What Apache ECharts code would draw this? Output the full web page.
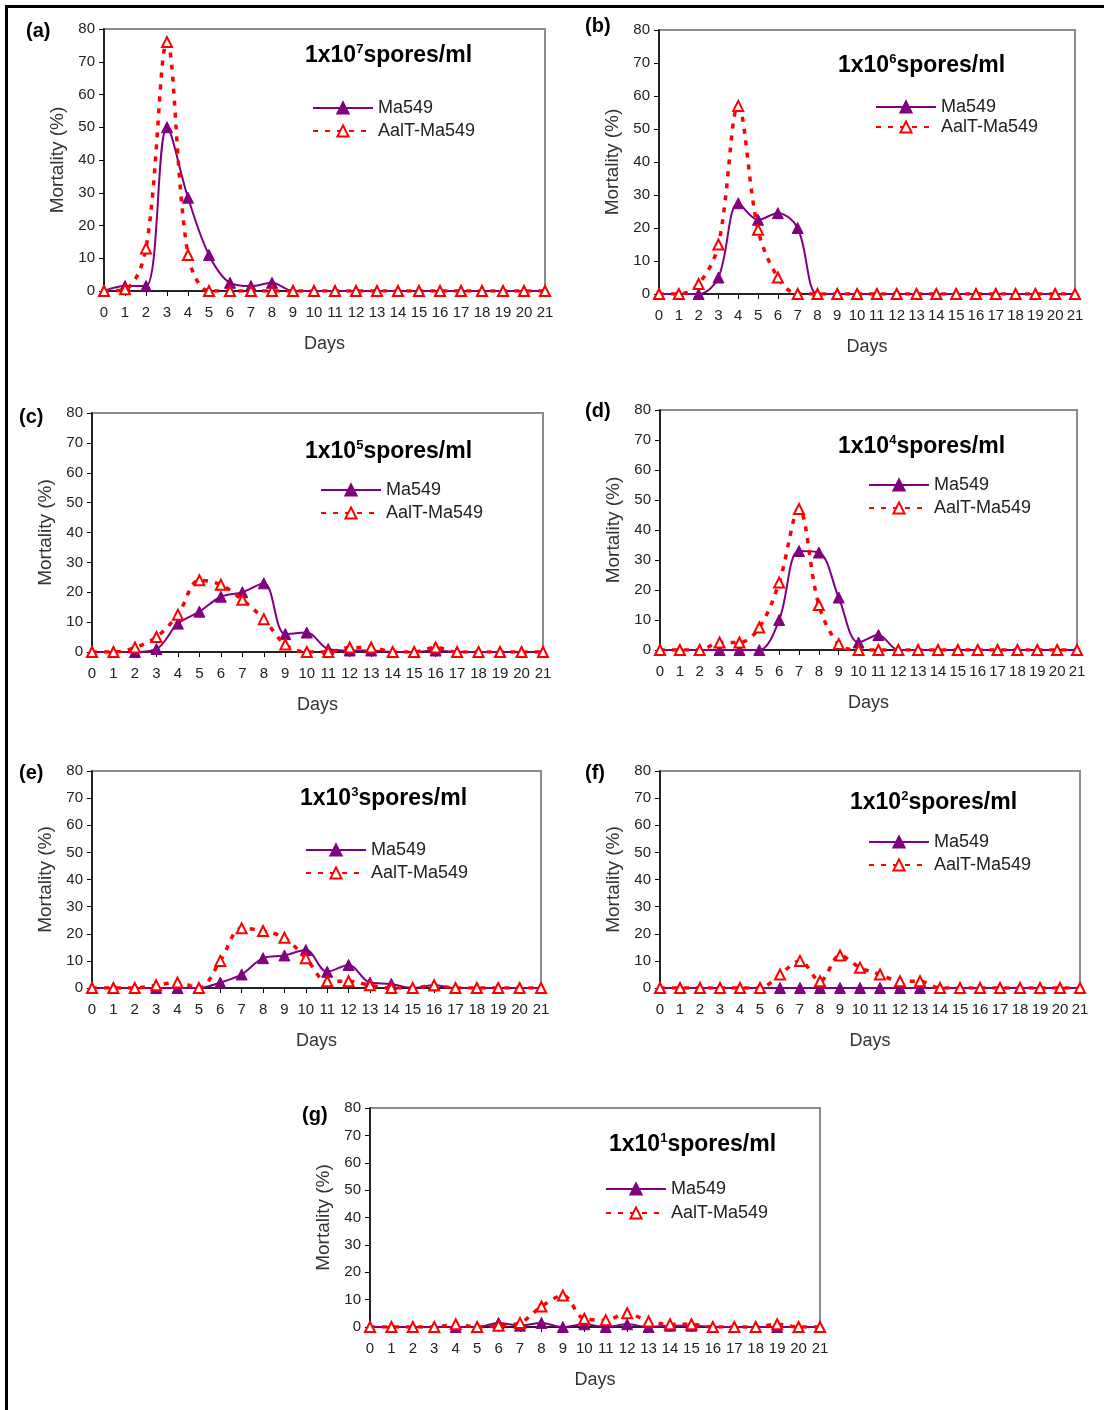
<!DOCTYPE html>
<html><head><meta charset="utf-8">
<script src="https://cdn.jsdelivr.net/npm/echarts@6/dist/echarts.min.js"></script>
<style>html,body{margin:0;padding:0;background:#fff}#c{width:1104px;height:1410px}</style>
</head><body><div id="c"></div>
<script>
// ---- data ----
const days = ['0','1','2','3','4','5','6','7','8','9','10','11','12','13','14','15','16','17','18','19','20','21'];
const seriesNames = ['Ma549', 'AalT-Ma549'];
const panelLetters = ['(a)','(b)','(c)','(d)','(e)','(f)','(g)'];
const exponents = ['7','6','5','4','3','2','1'];

const ma549_a = [0,1.5,1.5,50,28.5,11,2.5,1.5,2.5,0,0,0,0,0,0,0,0,0,0,0,0,0];
const aalt_a  = [0,0.5,13,76,11,0,0,0,0,0,0,0,0,0,0,0,0,0,0,0,0,0];
const ma549_b = [0,0,0,5,27.5,22.5,24.5,20,0,0,0,0,0,0,0,0,0,0,0,0,0,0];
const aalt_b  = [0,0,3,15,57,19.5,5,0,0,0,0,0,0,0,0,0,0,0,0,0,0,0];
const ma549_c = [0,0,0,1,9.5,13.5,18.5,20,23,6,6.5,1,0.5,0.5,0,0,0.5,0,0,0,0,0];
const aalt_c  = [0,0,1.5,5,12.5,24,22.5,17.5,11,2.5,0,0,1.5,1.5,0,0,1.5,0,0,0,0,0];
const ma549_d = [0,0,0,0,0,0,10,33,32.5,17.5,2.5,5,0,0,0,0,0,0,0,0,0,0];
const aalt_d  = [0,0,0,2.5,2.5,7.5,22.5,47,15,2,0,0,0,0,0,0,0,0,0,0,0,0];
const ma549_e = [0,0,0,0,0,0,2,5,11,12,14,6,8.5,2,1.5,0,1,0,0,0,0,0];
const aalt_e  = [0,0,0,1,2,0,10,22,21,18.5,11,2.5,2.5,1,0,0,1,0,0,0,0,0];
const ma549_f = [0,0,0,0,0,0,0,0,0,0,0,0,0,0,0,0,0,0,0,0,0,0];
const aalt_f  = [0,0,0,0,0,0,5,10,2.5,12,7.5,5,2.5,2.5,0,0,0,0,0,0,0,0];
const ma549_g = [0,0,0,0,0,0,1.5,0.5,1.5,0,1,0,1,0,0.5,0.5,0,0,0,0,0,0];
const aalt_g  = [0,0,0,0,1,0,0.5,1.5,7.5,11.5,3,2.5,5,2,1,1,0,0,0,1,0,0];

const maData = [ma549_a, ma549_b, ma549_c, ma549_d, ma549_e, ma549_f, ma549_g];
const aaData = [aalt_a, aalt_b, aalt_c, aalt_d, aalt_e, aalt_f, aalt_g];

// ---- layout (positions/styles) ----
const layout = [
  {grid:{left:104,top:29,width:441,height:262}, title:[305,43], legend:[312,99,5], label:[42,33]},
  {grid:{left:659,top:30,width:416,height:264}, title:[838,53], legend:[875,98,2], label:[601,28]},
  {grid:{left:92,top:413,width:451,height:239}, title:[305,439], legend:[320,481,5], label:[35,419]},
  {grid:{left:660,top:410,width:417,height:240}, title:[838,434], legend:[868,476,5], label:[601,413]},
  {grid:{left:92,top:771,width:449,height:217}, title:[300,786], legend:[305,841,5], label:[35,775]},
  {grid:{left:660,top:771,width:420,height:217}, title:[850,790], legend:[868,833,5], label:[601,775]},
  {grid:{left:370,top:1108,width:450,height:219}, title:[609,1132], legend:[605,1180,6], label:[318,1117]}
];

const PURPLE = '#800080', RED = '#ff0000';
const FONT = 'Liberation Sans, Arial, sans-serif';

const grids = [], xAxes = [], yAxes = [], series = [], titles = [], legends = [], graphics = [];

layout.forEach((L, i) => {
  grids.push(Object.assign({show:true, borderColor:'#8c8c8c', borderWidth:2, backgroundColor:'#fff', containLabel:false}, L.grid));
  xAxes.push({
    type:'category', gridIndex:i, data:days, boundaryGap:false,
    name:'Days', nameLocation:'middle', nameGap:44,
    nameTextStyle:{fontSize:18, color:'#333', fontFamily:FONT},
    axisLine:{show:true, onZero:false, lineStyle:{color:'#000', width:1.5}},
    axisTick:{show:true, alignWithLabel:true, interval:0, length:5, lineStyle:{color:'#000'}},
    axisLabel:{interval:0, margin:14, fontSize:15, color:'#222', fontFamily:FONT},
    splitLine:{show:false}
  });
  yAxes.push({
    type:'value', gridIndex:i, min:0, max:80, interval:10,
    name:'Mortality (%)', nameLocation:'middle', nameGap:37,
    nameTextStyle:{fontSize:19, color:'#333', fontFamily:FONT},
    axisLine:{show:true, lineStyle:{color:'#000', width:1.5}},
    axisTick:{show:true, length:5, lineStyle:{color:'#000'}},
    axisLabel:{margin:9, fontSize:15, color:'#222', fontFamily:FONT},
    splitLine:{show:false}
  });
  series.push({
    name:seriesNames[0], type:'line', xAxisIndex:i, yAxisIndex:i, data:maData[i],
    smooth:0.35, symbol:'triangle', symbolSize:11, showAllSymbol:true,
    lineStyle:{color:PURPLE, width:2}, itemStyle:{color:PURPLE, borderColor:PURPLE, borderWidth:1},
    z:2, animation:false
  });
  series.push({
    name:seriesNames[1], type:'line', xAxisIndex:i, yAxisIndex:i, data:aaData[i],
    smooth:0.35, symbol:'triangle', symbolSize:10, showAllSymbol:true,
    lineStyle:{color:RED, width:3.5, type:[5,7]}, itemStyle:{color:'#fff', borderColor:RED, borderWidth:2},
    z:3, animation:false
  });
  titles.push({
    text:'{n|1x10}{s|' + exponents[i] + '}{n|spores/ml}',
    left:L.title[0], top:L.title[1], padding:0,
    textStyle:{rich:{
      n:{fontSize:23, fontWeight:'bold', color:'#000', fontFamily:FONT, lineHeight:26},
      s:{fontSize:13, fontWeight:'bold', color:'#000', fontFamily:FONT, verticalAlign:'top', lineHeight:14}
    }}
  });
  legends.push({
    data:seriesNames, orient:'vertical', left:L.legend[0], top:L.legend[1], padding:0,
    itemWidth:60, itemHeight:14, itemGap:L.legend[2], selectedMode:false,
    textStyle:{fontSize:18, color:'#222', fontFamily:FONT}
  });
  graphics.push({type:'text', left:L.label[0]-16, top:L.label[1]-12,
    style:{text:panelLetters[i], fontSize:20, fontWeight:'bold', fill:'#000', fontFamily:FONT}});
});

graphics.push({type:'line', shape:{x1:5, y1:6.5, x2:1104, y2:6.5}, style:{stroke:'#000', lineWidth:3}});
graphics.push({type:'line', shape:{x1:6.5, y1:5, x2:6.5, y2:1410}, style:{stroke:'#000', lineWidth:3}});

const chart = echarts.init(document.getElementById('c'), null, {renderer:'canvas'});
chart.setOption({
  backgroundColor:'#fff', animation:false,
  grid:grids, xAxis:xAxes, yAxis:yAxes, series:series, title:titles, legend:legends, graphic:graphics
});
</script></body></html>
